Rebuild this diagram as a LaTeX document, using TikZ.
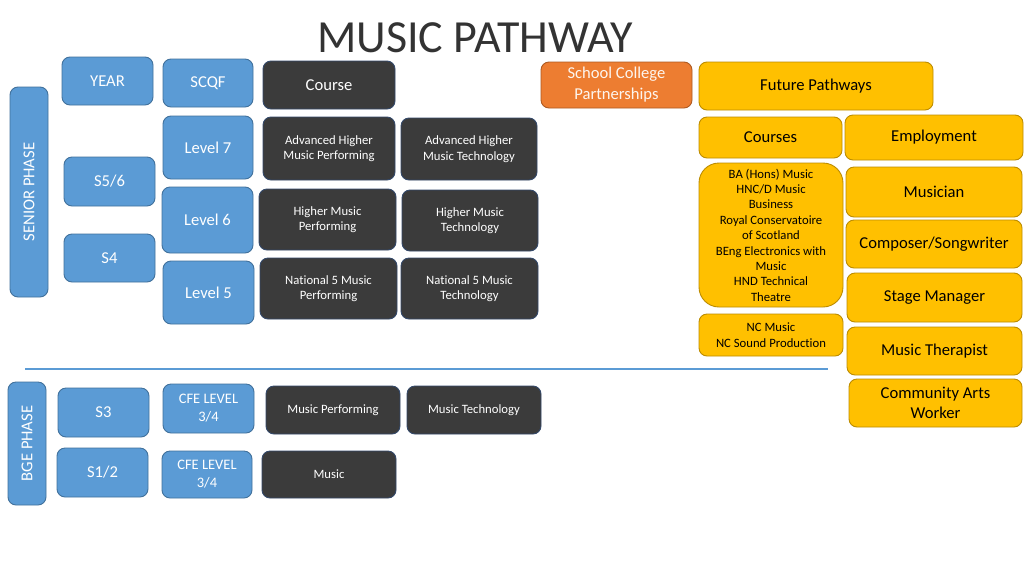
\documentclass[tikz,border=0pt]{standalone}
\usepackage{fontspec}
\setmainfont{Carlito}[Ligatures=NoCommon]
\definecolor{cblue}{HTML}{5B9BD5}
\definecolor{cblueD}{HTML}{41719C}
\definecolor{cdark}{HTML}{3B3B3B}
\definecolor{cdarkD}{HTML}{34496A}
\definecolor{corange}{HTML}{ED7D31}
\definecolor{corangeD}{HTML}{AE5A21}
\definecolor{cyellow}{HTML}{FFC000}
\definecolor{cyellowD}{HTML}{BC8C00}
\begin{document}
\begin{tikzpicture}[x=1pt,y=-1pt]
\tikzset{
  sz/.style 2 args={minimum width=#1pt, minimum height=#2pt},
  base/.style={rounded corners=8pt, inner sep=0pt, align=center, line width=0.9pt},
  bigtxt/.style={font=\fontsize{16.6}{20}\selectfont},
  smalltxt/.style={font=\fontsize{12.7}{15.4}\selectfont},
  bluebox/.style={base, fill=cblue, draw=cblueD, text=white, bigtxt},
  darkbox/.style={base, fill=cdark, draw=cdarkD, text=white, smalltxt},
  orangebox/.style={base, fill=corange, draw=corangeD, text=white!92!corange, bigtxt},
  yellowbox/.style={base, fill=cyellow, draw=cyellowD, text=black, bigtxt},
  divider/.style={draw=cblue, line width=2.5pt},
}
\useasboundingbox (0,0) rectangle (1024,576);
\fill[white] (0,0) rectangle (1024,576);

\node[font=\fontsize{46}{52}\selectfont, text=black!80] (title) at (475,38) {MUSIC PATHWAY};

% headers
\node[bluebox, sz={91}{48}] (year) at (107.5,81) {YEAR};
\node[bluebox, sz={90}{48}] (scqf) at (208,83) {SCQF};
\node[darkbox, bigtxt, sz={132}{48}] (course) at (329,85) {Course};
\node[orangebox, sz={151}{46}, font=\fontsize{16.6}{21}\selectfont] (scp) at (616.5,85) {School College\\Partnerships};
\node[yellowbox, sz={234}{48}] (future) at (816,86) {Future Pathways};

% senior phase
\node[bluebox, sz={210}{38}, rotate=90] (senior) at (29,192) {SENIOR PHASE};
\node[bluebox, sz={91}{49}] (s56) at (109.5,181.5) {S5/6};
\node[bluebox, sz={91}{48}] (s4) at (109.5,258) {S4};
\node[bluebox, sz={90}{63}] (l7) at (208,147.5) {Level 7};
\node[bluebox, sz={91}{66}] (l6) at (207.5,220) {Level 6};
\node[bluebox, sz={91}{63}] (l5) at (208.5,292.5) {Level 5};

\node[darkbox, sz={132}{63}] (ahmp) at (329,148.5) {Advanced Higher\\Music Performing};
\node[darkbox, sz={136}{62}] (ahmt) at (469,149) {Advanced Higher\\Music Technology};
\node[darkbox, sz={137}{61}] (hmp) at (327.5,219.5) {Higher Music\\Performing};
\node[darkbox, sz={136}{61}] (hmt) at (470,220.5) {Higher Music\\Technology};
\node[darkbox, sz={137}{61}] (nmp) at (328.5,288.5) {National 5 Music\\Performing};
\node[darkbox, sz={137}{61}] (nmt) at (469.5,288.5) {National 5 Music\\Technology};

% future pathways
\node[yellowbox, sz={143}{41}] (courses) at (770.5,137.5) {Courses};
\node[yellowbox, sz={178}{45}] (employ) at (934,137.5) {Employment};
\node[yellowbox, smalltxt, rounded corners=20pt, sz={144}{144}] (ba) at (771,235)
  {BA (Hons) Music\\HNC/D Music\\Business\\Royal Conservatoire\\of Scotland\\BEng Electronics with\\Music\\HND Technical\\Theatre};
\node[yellowbox, smalltxt, sz={144}{42}] (nc) at (771,335) {NC Music\\NC Sound Production};
\node[yellowbox, sz={176}{50}] (musician) at (934,192) {Musician};
\node[yellowbox, sz={176}{48}] (composer) at (934,244) {Composer/Songwriter};
\node[yellowbox, sz={175}{49}] (stage) at (934.5,297.5) {Stage Manager};
\node[yellowbox, sz={175}{48}] (therapist) at (934.5,351) {Music Therapist};
\node[yellowbox, sz={173}{48}] (community) at (935.5,403) {Community Arts\\Worker};

% divider
\coordinate (divL) at (25,369);
\coordinate (divR) at (828,369);
\draw[divider] (divL) -- (divR);

% BGE phase
\node[bluebox, sz={123}{38}, rotate=90] (bge) at (27,443.5) {BGE PHASE};
\node[bluebox, sz={91}{49}] (s3) at (103.5,412.5) {S3};
\node[bluebox, sz={91}{49}] (s12) at (102.5,472.5) {S1/2};
\node[bluebox, sz={91}{49}, font=\fontsize{14.5}{18}\selectfont] (cfe1) at (208.5,408.5) {CFE LEVEL\\3/4};
\node[bluebox, sz={90}{47}, font=\fontsize{14.5}{18}\selectfont] (cfe2) at (207,474.5) {CFE LEVEL\\3/4};
\node[darkbox, sz={134}{48}] (mperf) at (333,410) {Music Performing};
\node[darkbox, sz={134}{48}] (mtech) at (474,410) {Music Technology};
\node[darkbox, sz={134}{47}] (music) at (329,474.5) {Music};
\end{tikzpicture}
\end{document}
